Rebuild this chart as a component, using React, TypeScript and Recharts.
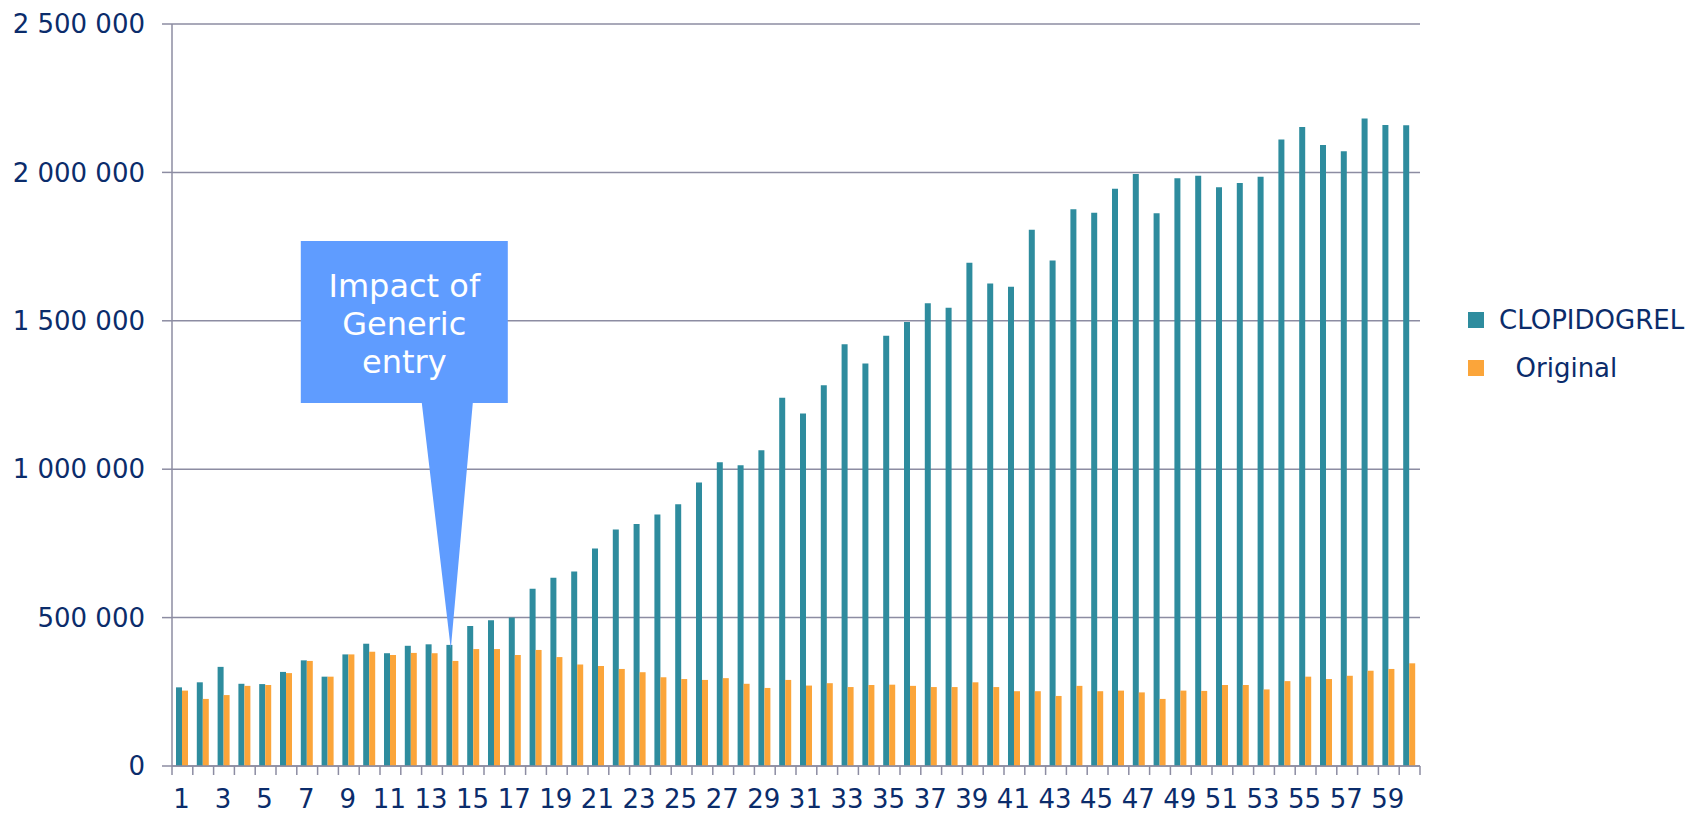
import React from "react";
import {
  BarChart,
  Bar,
  XAxis,
  YAxis,
  CartesianGrid,
  Legend,
  ReferenceDot,
} from "recharts";

// month index 1..60
const months: string[] = [
  "1", "2", "3", "4", "5", "6", "7", "8", "9", "10",
  "11", "12", "13", "14", "15", "16", "17", "18", "19", "20",
  "21", "22", "23", "24", "25", "26", "27", "28", "29", "30",
  "31", "32", "33", "34", "35", "36", "37", "38", "39", "40",
  "41", "42", "43", "44", "45", "46", "47", "48", "49", "50",
  "51", "52", "53", "54", "55", "56", "57", "58", "59", "60",
];

const clopidogrel: number[] = [
  265000, 282000, 334000, 277000, 276000, 317000, 356000, 301000, 376000, 412000,
  380000, 405000, 410000, 408000, 472000, 491000, 500000, 597000, 634000, 655000,
  733000, 797000, 815000, 847000, 882000, 955000, 1023000, 1013000, 1064000, 1241000,
  1188000, 1283000, 1421000, 1356000, 1450000, 1496000, 1559000, 1544000, 1696000, 1626000,
  1615000, 1807000, 1703000, 1876000, 1864000, 1945000, 1995000, 1862000, 1980000, 1989000,
  1950000, 1964000, 1985000, 2111000, 2153000, 2092000, 2071000, 2182000, 2160000, 2159000,
];

const original: number[] = [
  254000, 226000, 239000, 270000, 273000, 313000, 354000, 301000, 376000, 385000,
  374000, 381000, 380000, 354000, 394000, 394000, 374000, 391000, 367000, 342000,
  337000, 327000, 316000, 299000, 293000, 290000, 296000, 277000, 263000, 290000,
  271000, 279000, 266000, 273000, 274000, 270000, 266000, 266000, 282000, 266000,
  252000, 252000, 236000, 270000, 252000, 254000, 248000, 226000, 254000, 253000,
  273000, 273000, 258000, 286000, 301000, 293000, 304000, 321000, 327000, 346000,
];

const yTicks: number[] = [0, 500000, 1000000, 1500000, 2000000, 2500000];

const calloutLines: string[] = ["Impact of", "Generic", "entry"];
const calloutMonth = "14";

const legendOrder: string[] = ["clopidogrel", "original"];

const data = months.map((m, i) => ({
  month: m,
  clopidogrel: clopidogrel[i],
  original: original[i],
}));

const W = 1696;
const H = 813;
const M = { top: 24, right: 276, bottom: 0, left: 0 };
const Y_AXIS_W = 172;
const X_AXIS_H = 47;
const BAND = (W - M.left - M.right - Y_AXIS_W) / months.length;

const TEAL = "#2e8c9e";
const ORANGE = "#fba53a";
const GRID = "#8c8ca2";
const INK = "#0b2c6b";
const CALLOUT = "#5f9cff";
const FONT = "'DejaVu Sans', Verdana, sans-serif";

const fmt = (v: number) => String(v).replace(/\B(?=(\d{3})+(?!\d))/g, " ");

const XTick = (props: any) => {
  const { x, y, index, payload } = props;
  const left = x - BAND / 2;
  return (
    <g>
      <line x1={left} x2={left} y1={y} y2={y + 9} stroke={GRID} strokeWidth={1.5} />
      {index === months.length - 1 && (
        <line x1={x + BAND / 2} x2={x + BAND / 2} y1={y} y2={y + 9} stroke={GRID} strokeWidth={1.5} />
      )}
      {index % 2 === 0 && (
        <text x={x - 1} y={y + 42} textAnchor="middle" fontSize={26} fill={INK} fontFamily={FONT}>
          {payload.value}
        </text>
      )}
    </g>
  );
};

const Callout = (props: any) => {
  const { cx, cy } = props;
  if (cx == null || cy == null) return null;
  const boxL = cx - 152;
  const boxR = cx + 55;
  const boxT = cy - 404;
  const boxB = cy - 242;
  const mid = (boxL + boxR) / 2;
  return (
    <g>
      <polygon
        points={`${boxL},${boxT} ${boxR},${boxT} ${boxR},${boxB} ${cx + 20},${boxB} ${cx - 2},${cy + 4} ${cx - 31},${boxB} ${boxL},${boxB}`}
        fill={CALLOUT}
      />
      {calloutLines.map((t, i) => (
        <text
          key={t}
          x={mid}
          y={cy - 348 + i * 38}
          textAnchor="middle"
          fontSize={32}
          fill="#ffffff"
          fontFamily={FONT}
        >
          {t}
        </text>
      ))}
    </g>
  );
};

const LegendBox = (props: any) => {
  const items = [...(props.payload || [])].sort(
    (a: any, b: any) => legendOrder.indexOf(a.dataKey) - legendOrder.indexOf(b.dataKey)
  );
  return (
    <div>
      {items.map((it: any) => (
        <div
          key={it.dataKey}
          style={{ display: "flex", alignItems: "center", height: 48 }}
        >
          <span
            style={{
              display: "inline-block",
              width: 16,
              height: 16,
              background: it.color,
              marginRight: 15,
            }}
          />
          <span
            style={{
              fontFamily: FONT,
              fontSize: 26,
              color: INK,
              whiteSpace: "pre",
            }}
          >
            {it.value}
          </span>
        </div>
      ))}
    </div>
  );
};

export default function App() {
  return (
    <div style={{ position: "absolute", left: 0, top: 0, width: W, height: H, background: "#fff" }}>
      <BarChart width={W} height={H} data={data} margin={M} barGap={0}>
        <CartesianGrid vertical={false} stroke={GRID} strokeWidth={1.5} />
        <XAxis
          dataKey="month"
          type="category"
          interval={0}
          height={X_AXIS_H}
          tickSize={0}
          tickMargin={0}
          tickLine={false}
          axisLine={{ stroke: GRID, strokeWidth: 1.5 }}
          tick={<XTick />}
        />
        <YAxis
          width={Y_AXIS_W}
          domain={[0, 2500000]}
          ticks={yTicks}
          tickFormatter={fmt}
          tickSize={10}
          tickMargin={17}
          axisLine={{ stroke: GRID, strokeWidth: 1.5 }}
          tickLine={{ stroke: GRID, strokeWidth: 1.5 }}
          tick={{ fontSize: 26, fill: INK, fontFamily: FONT }}
        />
        <Legend
          layout="vertical"
          align="center"
          verticalAlign="middle"
          content={<LegendBox />}
          wrapperStyle={{ left: 1468, top: 296, width: 228, height: 100 }}
        />
        <Bar
          dataKey="clopidogrel"
          name="CLOPIDOGREL"
          fill={TEAL}
          barSize={6}
          isAnimationActive={false}
        />
        <Bar
          dataKey="original"
          name="  Original"
          fill={ORANGE}
          barSize={6}
          isAnimationActive={false}
        />
        <ReferenceDot
          x={calloutMonth}
          y={clopidogrel[months.indexOf(calloutMonth)]}
          ifOverflow="visible"
          shape={<Callout />}
        />
      </BarChart>
    </div>
  );
}
